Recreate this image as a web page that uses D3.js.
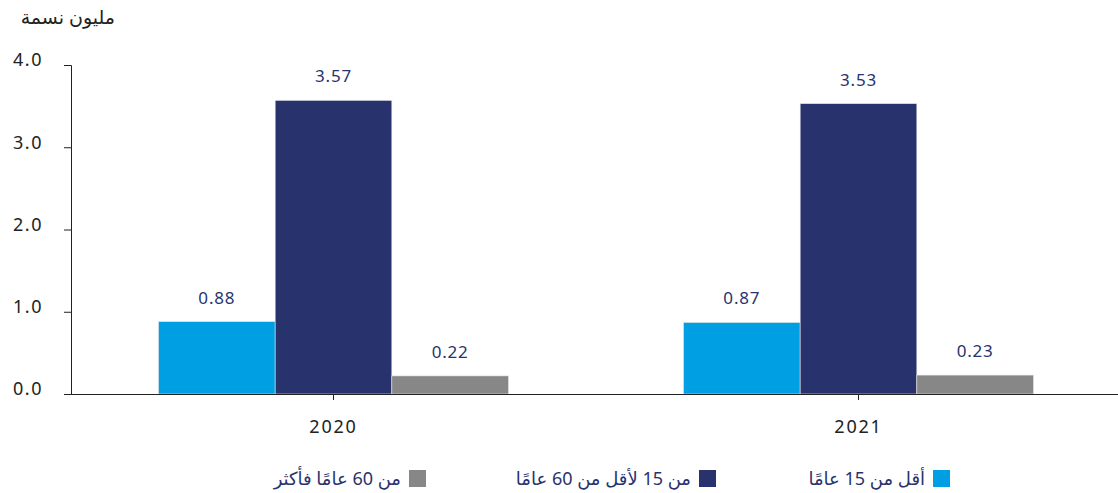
<!DOCTYPE html>
<html>
<head>
<meta charset="UTF-8">
<title>Population by age group</title>
<script src="https://cdn.jsdelivr.net/npm/d3@7"></script>
<style>
  body { margin: 0; background: #fff; }
  svg { display: block; font-family: "Noto Sans", "DejaVu Sans", sans-serif; }
</style>
</head>
<body>
<svg id="chart" width="1118" height="493"></svg>
<script>
// data
var years = ['2020', '2021'];
var groups = ['أقل من 15 عامًا', 'من 15 لأقل من 60 عامًا', 'من 60 عامًا فأكثر'];
var under15 = [0.88, 0.87];
var mid15to60 = [3.57, 3.53];
var over60 = [0.22, 0.23];
var yTicks = [0, 1, 2, 3, 4];
var colors = ['#009fe3', '#28336e', '#878787'];

var series = [under15, mid15to60, over60];

var svg = d3.select('#chart');
var plotLeft = 71, plotRight = 1121, plotTop = 65, plotBottom = 394;

var x = d3.scaleBand().domain(years).range([plotLeft, plotRight]);
var xi = d3.scaleBand().domain(d3.range(groups.length))
  .range([x.bandwidth() / 6, x.bandwidth() * 5 / 6]);
var y = d3.scaleLinear().domain([0, 4]).range([plotBottom, plotTop]);

// y title
svg.append('text')
  .attr('x', 115).attr('y', 24)
  .attr('text-anchor', 'start')
  .attr('direction', 'rtl')
  .style('font-size', '19px').style('fill', '#222')
  .text('مليون نسمة');

// y axis
var yAxis = svg.append('g')
  .attr('transform', 'translate(' + plotLeft + ',0)')
  .call(d3.axisLeft(y).tickValues(yTicks).tickFormat(d3.format('.1f')).tickSize(7).tickSizeOuter(7));
yAxis.selectAll('text')
  .attr('x', -28).attr('dy', '0.05em')
  .style('font-size', '18px').style('fill', '#222')
  .style('letter-spacing', '1.5px')
  .style('font-family', '"Noto Sans", sans-serif');
yAxis.selectAll('line, path').attr('stroke', '#222');

// bars
years.forEach(function(yr, i) {
  var g = svg.append('g').attr('transform', 'translate(' + x(yr) + ',0)');
  series.forEach(function(s, k) {
    g.append('rect')
      .attr('x', xi(k)).attr('width', xi.bandwidth())
      .attr('y', y(s[i])).attr('height', y(0) - y(s[i]))
      .attr('fill', colors[k])
      .attr('stroke', '#e6e6e6').attr('stroke-width', 0.6);
    g.append('text')
      .attr('x', xi(k) + xi.bandwidth() / 2)
      .attr('y', y(s[i]) - 18)
      .attr('text-anchor', 'middle')
      .style('font-size', '17px').style('fill', '#28336e')
      .style('letter-spacing', '0.8px')
      .text(s[i].toFixed(2));
  });
});

// x axis
var xAxis = svg.append('g')
  .attr('transform', 'translate(0,' + plotBottom + ')')
  .call(d3.axisBottom(x).tickSize(6).tickSizeOuter(0));
xAxis.select('.domain').attr('d', 'M' + (plotLeft - 7) + ',0.5H1118').attr('stroke', '#222');
xAxis.selectAll('line').attr('stroke', '#222');
xAxis.selectAll('text')
  .attr('y', 26)
  .style('font-size', '18px').style('fill', '#222')
  .style('letter-spacing', '1.8px')
  .style('font-family', '"Noto Sans", sans-serif');

// legend
var legendX = [933, 699, 409];
groups.forEach(function(name, k) {
  svg.append('rect')
    .attr('x', legendX[k]).attr('y', 470)
    .attr('width', 17).attr('height', 17)
    .attr('fill', colors[k]);
  svg.append('text')
    .attr('x', legendX[k] - 8).attr('y', 485)
    .attr('text-anchor', 'start')
    .attr('direction', 'rtl')
    .style('font-size', '18px').style('fill', '#28336e')
    .text(name);
});
</script>
</body>
</html>
